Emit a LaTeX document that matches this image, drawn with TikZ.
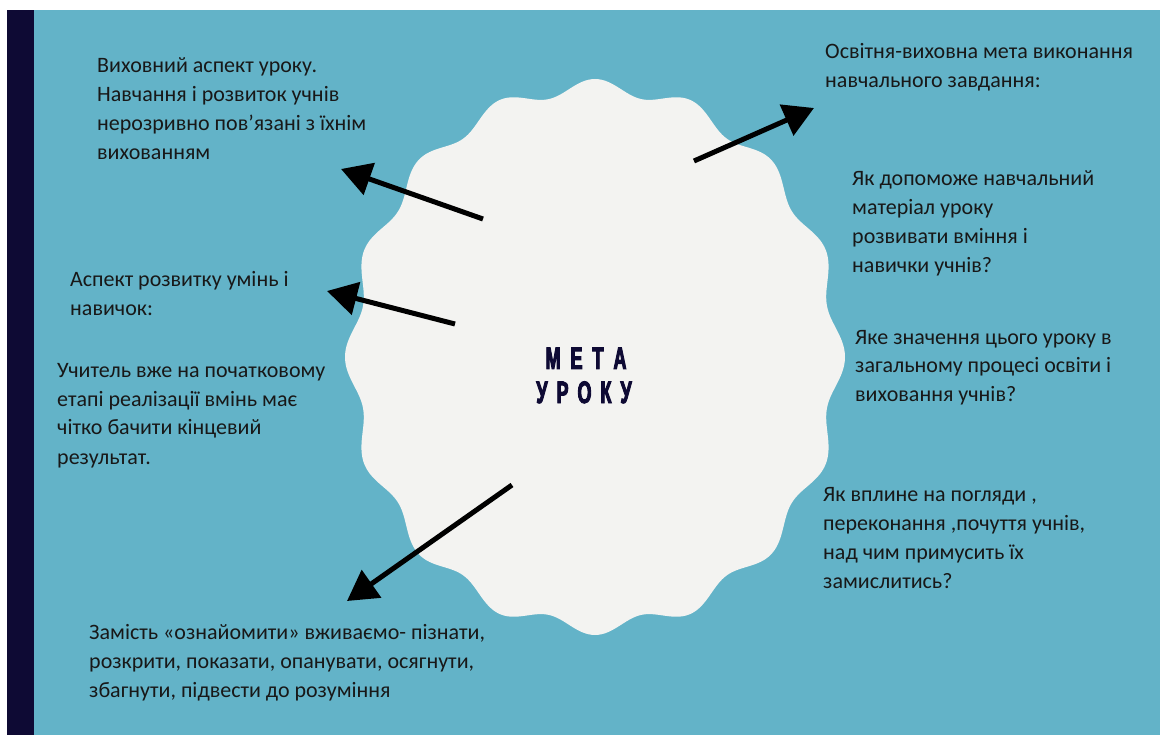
\documentclass[tikz,border=0pt]{standalone}
\usepackage{fontspec}
\setmainfont{Carlito}
\newfontfamily\metaf[FakeStretch=0.58,FakeBold=3]{Liberation Sans}
\usetikzlibrary{arrows.meta}
\definecolor{teal1}{RGB}{99,179,200}
\definecolor{navy1}{RGB}{14,10,52}
\definecolor{blobc}{RGB}{243,243,241}
\definecolor{txt}{RGB}{24,24,24}
\tikzset{
  lbl/.style={anchor=base west, inner sep=0pt, align=left, text=txt,
    font=\fontsize{22}{29}\selectfont},
  arr/.style={line width=5pt, -{Triangle[length=30pt,width=33pt]}, black},
  ttl/.style={anchor=base, inner sep=0pt, text=navy1, font=\metaf\bfseries\fontsize{31}{34}\selectfont}
}
\begin{document}
\begin{tikzpicture}[x=1pt,y=-1pt]
\useasboundingbox (0,0) rectangle (1160,735);
\fill[white] (0,0) rectangle (1160,735);
\fill[navy1] (7,10) rectangle (34,735);
\fill[teal1] (34,10) rectangle (1160,735);
% wavy blob
\fill[blobc] plot[domain=0:360, samples=721, variable=\t]
  ({595+250*(0.973+0.027*cos(16*\t))*cos(\t)}, {357+278*(0.973+0.027*cos(16*\t))*sin(\t)}) -- cycle;
% title
\node[ttl] (t1) at (586,369) {М\hspace{10pt}Е\hspace{10pt}Т\hspace{10pt}А};
\node[ttl] (t2) at (584,403) {У\hspace{9pt}Р\hspace{9pt}О\hspace{9pt}К\hspace{9pt}У};
% texts (anchored at the baseline of the last line)
\node[lbl] (tA) at (97,160) {Виховний аспект уроку.\\Навчання і розвиток учнів\\нерозривно пов’язані з їхнім\\вихованням};
\node[lbl] (tB) at (70,316) {Аспект розвитку умінь і\\навичок:};
\node[lbl] (tC) at (57,464) {Учитель вже на початковому\\етапі реалізації вмінь має\\чітко бачити кінцевий\\результат.};
\node[lbl] (tD) at (89,697) {Замість «ознайомити» вживаємо- пізнати,\\розкрити, показати, опанувати, осягнути,\\збагнути, підвести до розуміння};
\node[lbl] (tE) at (825,88) {Освітня-виховна мета виконання\\навчального завдання:};
\node[lbl] (tF) at (852,273) {Як допоможе навчальний\\матеріал уроку\\розвивати вміння і\\навички учнів?};
\node[lbl] (tG) at (855,402) {Яке значення цього уроку в\\загальному процесі освіти і\\виховання учнів?};
\node[lbl] (tH) at (823,588) {Як вплине на погляди ,\\переконання ,почуття учнів,\\над чим примусить їх\\замислитись?};
% arrows
\coordinate (a1s) at (483,219);
\coordinate (a1e) at (341,169);
\coordinate (a2s) at (455,324);
\coordinate (a2e) at (327,291);
\coordinate (a3s) at (694,161);
\coordinate (a3e) at (814,108);
\coordinate (a4s) at (512,485);
\coordinate (a4e) at (347,601);
\draw[arr] (a1s) -- (a1e);
\draw[arr] (a2s) -- (a2e);
\draw[arr] (a3s) -- (a3e);
\draw[arr] (a4s) -- (a4e);
\end{tikzpicture}
\end{document}
